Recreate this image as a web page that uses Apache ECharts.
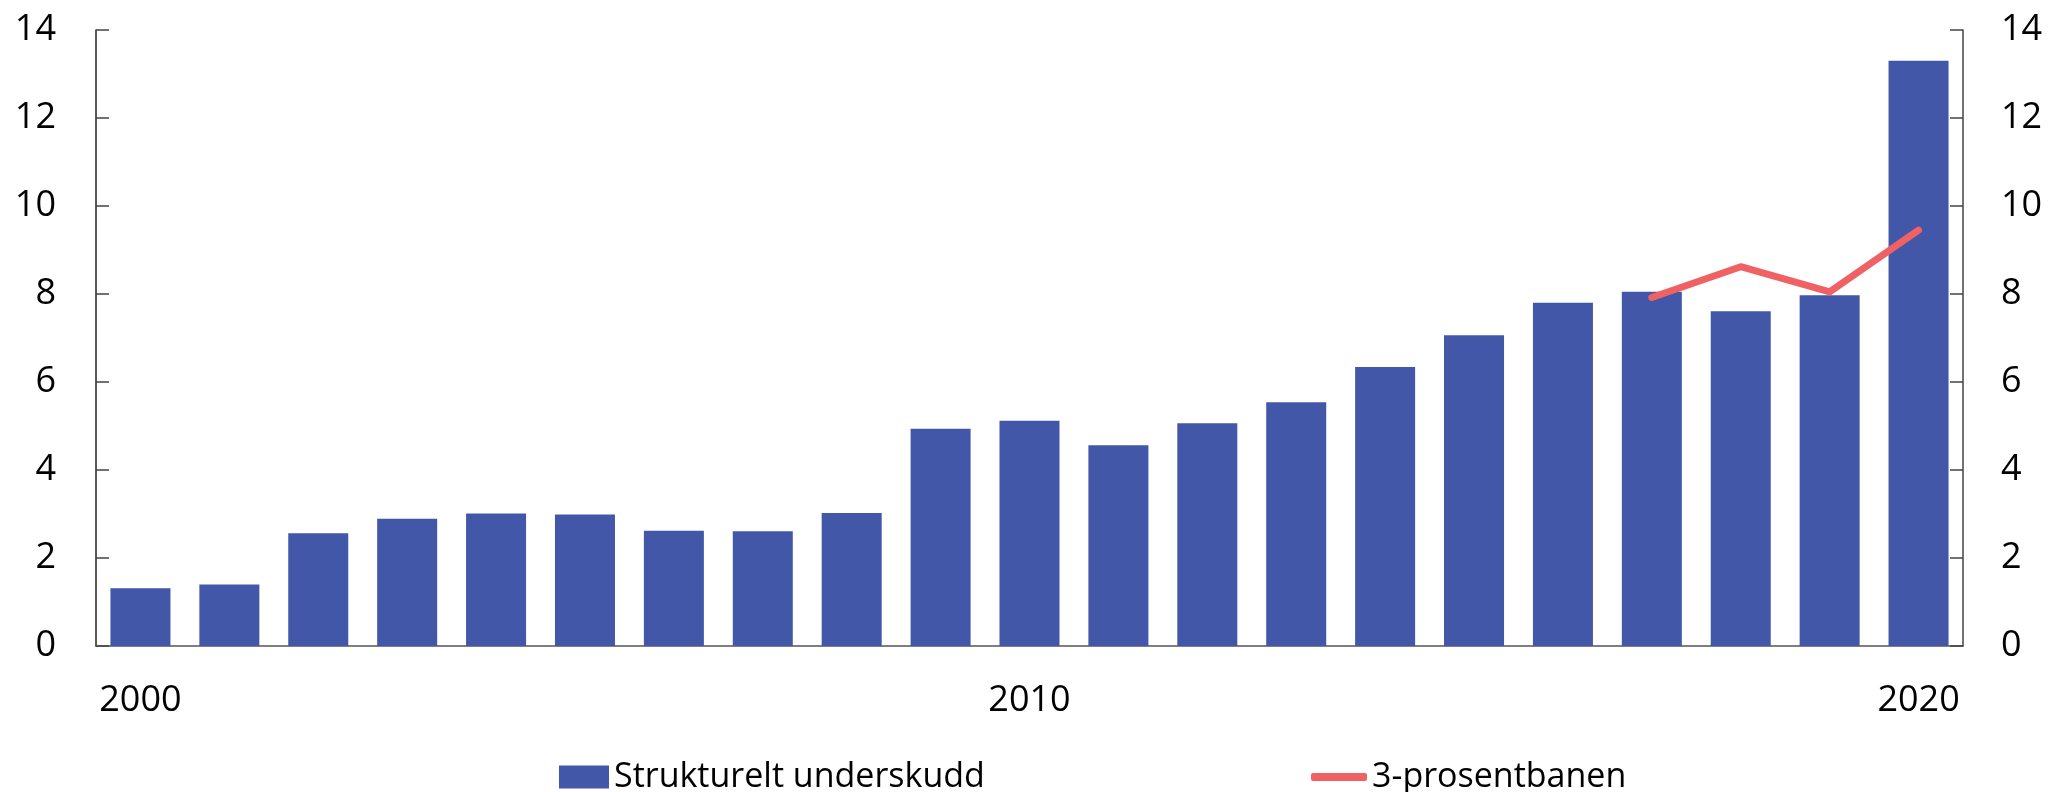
<!DOCTYPE html>
<html>
<head>
<meta charset="utf-8">
<script src="https://cdn.jsdelivr.net/npm/echarts@6/dist/echarts.min.js"></script>
<style>
  html, body { margin: 0; padding: 0; background: #fff; }
  #chart { width: 2049px; height: 792px; }
</style>
</head>
<body>
<div id="chart"></div>
<script>
// år
var years = ['2000','2001','2002','2003','2004','2005','2006','2007','2008','2009','2010',
             '2011','2012','2013','2014','2015','2016','2017','2018','2019','2020'];
// strukturelt underskudd
var underskudd = [1.31, 1.40, 2.56, 2.89, 3.01, 2.99, 2.62, 2.61, 3.02, 4.94, 5.12,
                  4.56, 5.06, 5.54, 6.34, 7.06, 7.80, 8.05, 7.61, 7.97, 13.30];
// 3-prosentbanen
var prosentbanen = [null, null, null, null, null, null, null, null, null, null, null,
                    null, null, null, null, null, null, 7.92, 8.62, 8.05, 9.45];
var shownYears = ['2000', '2010', '2020'];

var fontName = '"Open Sans", "Noto Sans", sans-serif';
var barColor = '#4257a7';
var lineColor = '#f06164';

var myChart = echarts.init(document.getElementById('chart'));

var option = {
  animation: false,
  grid: { left: 96, right: 86, top: 30, bottom: 146, containLabel: false },
  legend: [
    {
      left: 554, top: 755,
      itemWidth: 50, itemHeight: 23, itemGap: 0,
      data: [{ name: 'Strukturelt underskudd', icon: 'rect' }],
      textStyle: { fontFamily: fontName, fontSize: 34, color: '#000' }
    },
    {
      left: 1306, top: 755,
      itemWidth: 56, itemHeight: 8, itemGap: 0,
      data: [{ name: '3-prosentbanen', icon: 'roundRect' }],
      textStyle: { fontFamily: fontName, fontSize: 34, color: '#000' }
    }
  ],
  xAxis: {
    type: 'category',
    data: years,
    axisLine: { lineStyle: { color: '#555', width: 1.5 } },
    axisTick: { show: false },
    axisLabel: {
      fontFamily: fontName, fontSize: 36, color: '#000', margin: 37,
      interval: 0,
      formatter: function (v) { return shownYears.indexOf(v) >= 0 ? v : ''; }
    }
  },
  yAxis: [
    {
      type: 'value', min: 0, max: 14, interval: 2, position: 'left',
      axisLine: { show: true, lineStyle: { color: '#222', width: 1.5 } },
      axisTick: { show: true, inside: true, length: 13, lineStyle: { color: '#444', width: 1.5 } },
      splitLine: { show: false },
      axisLabel: { fontFamily: fontName, fontSize: 36, color: '#000', margin: 40 }
    },
    {
      type: 'value', min: 0, max: 14, interval: 2, position: 'right',
      axisLine: { show: true, lineStyle: { color: '#444', width: 1.5 } },
      axisTick: { show: true, inside: true, length: 13, lineStyle: { color: '#444', width: 1.5 } },
      splitLine: { show: false },
      axisLabel: { fontFamily: fontName, fontSize: 36, color: '#000', margin: 38 }
    }
  ],
  series: [
    {
      name: 'Strukturelt underskudd',
      type: 'bar',
      data: underskudd,
      barWidth: '67.5%',
      itemStyle: { color: barColor }
    },
    {
      name: '3-prosentbanen',
      type: 'line',
      data: prosentbanen,
      symbol: 'none',
      lineStyle: { color: lineColor, width: 7, cap: 'round', join: 'round' },
      itemStyle: { color: lineColor }
    }
  ]
};

myChart.setOption(option);
</script>
</body>
</html>
